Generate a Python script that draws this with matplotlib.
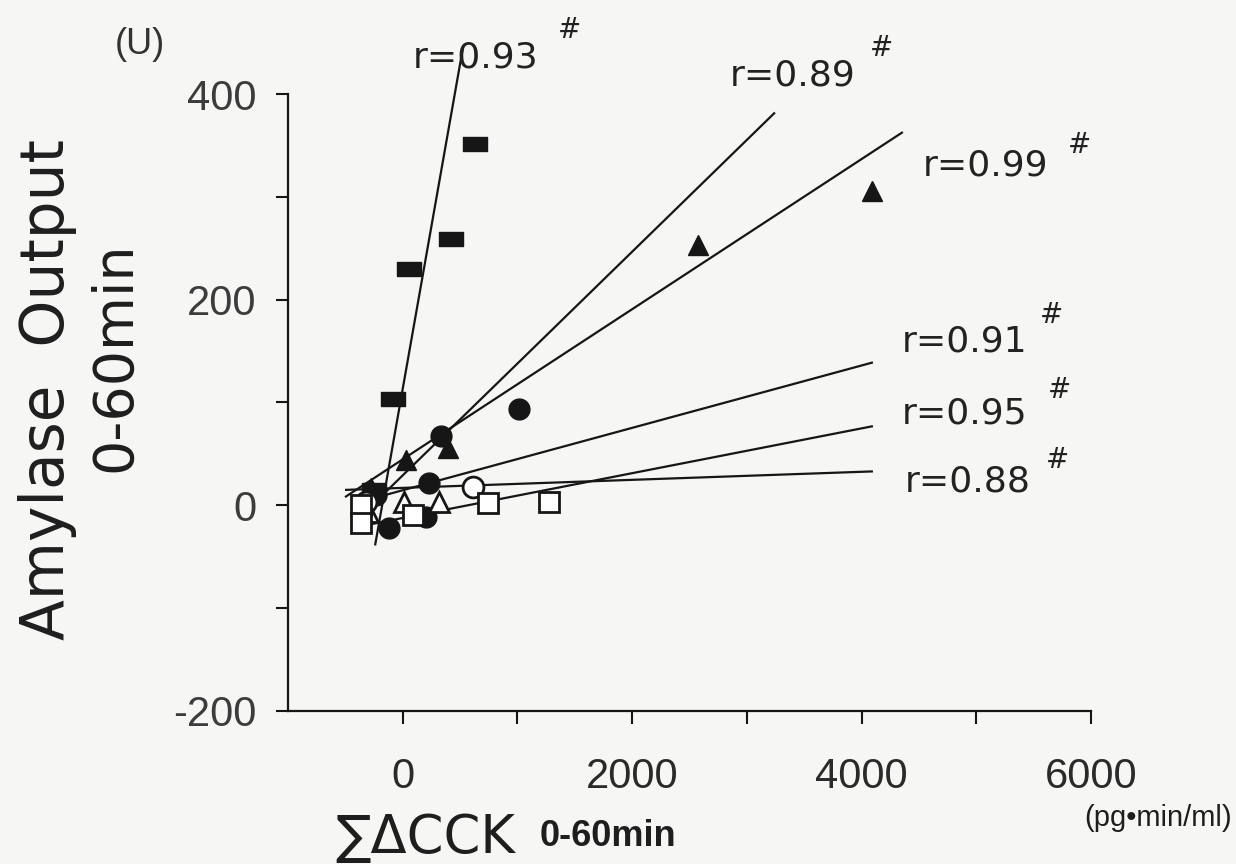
"""Amylase output vs summed CCK increment, 0-60 min, one regression line per group."""

import numpy as np
import matplotlib.pyplot as plt
from matplotlib.path import Path

W, H = 1236, 864
my_dpi = 100

# --- data ------------------------------------------------------------------
# filled rectangles
sq_f_x = [-250, -87, 52, 418, 627]
sq_f_y = [15, 103, 230, 259, 351]
# filled triangles
tri_f_x = [-279, 26, 392, 2570, 4094]
tri_f_y = [17, 44, 56, 253, 306]
# filled circles
cir_f_x = [-235, -122, 200, 226, 331, 1010]
cir_f_y = [10, -22, -11, 22, 67, 94]
# open circles
cir_o_x = [-320, 610]
cir_o_y = [3, 18]
# open triangles
tri_o_x = [9, 313, -300]
tri_o_y = [3, 3, -6]
# open squares
sq_o_x = [-366, -366, 87, 740, 1272]
sq_o_y = [0, -17, -9, 2, 3]

# regression lines: x start/end, y start/end
line_r = ["0.93", "0.89", "0.99", "0.91", "0.95", "0.88"]
line_x0 = [-241, -268, -503, -154, -398, -503]
line_x1 = [525, 3245, 4360, 4099, 4099, 4099]
line_y0 = [-39, 0, 8, 10, -21, 15]
line_y1 = [445, 382, 363, 139, 77, 33]

# label positions in picture pixels (left edge, centre y) and "#" centres
lab_px = [(413, 58), (730, 76), (923, 165), (902, 342), (902, 413), (905, 482)]
hash_px = [(570, 30), (882, 48), (1080, 145), (1052, 315), (1060, 390), (1058, 460)]

xticks = [0, 1000, 2000, 3000, 4000, 5000, 6000]
xtick_labels = ["0", "", "2000", "", "4000", "", "6000"]
yticks = [-200, -100, 0, 100, 200, 300, 400]
ytick_labels = ["-200", "", "0", "", "200", "", "400"]


def fx(px):
    return px / W


def fy(py):
    return 1 - py / H


rect = Path([(-1, -0.62), (1, -0.62), (1, 0.62), (-1, 0.62), (-1, -0.62)],
            [Path.MOVETO, Path.LINETO, Path.LINETO, Path.LINETO, Path.CLOSEPOLY])

fig = plt.figure(figsize=(W / my_dpi, H / my_dpi), dpi=my_dpi, facecolor="#f6f6f4")
ax = fig.add_axes([fx(288), fy(711), fx(1091) - fx(288), fy(94) - fy(711)])
ax.set_facecolor("none")

ink = "#161616"
for k in range(len(line_r)):
    ax.plot([line_x0[k], line_x1[k]], [line_y0[k], line_y1[k]], color=ink, lw=1.6,
            solid_capstyle="butt", clip_on=False, zorder=2)

ms = 15
ax.plot(sq_f_x, sq_f_y, ls="none", marker=rect, ms=ms + 2, color=ink, zorder=3)
ax.plot(tri_f_x, tri_f_y, ls="none", marker="^", ms=ms, color=ink, zorder=3)
ax.plot(cir_f_x, cir_f_y, ls="none", marker="o", ms=ms, color=ink, zorder=3)
ax.plot(cir_o_x, cir_o_y, ls="none", marker="o", ms=ms, mfc="white", mec=ink, mew=2, zorder=3)
ax.plot(tri_o_x, tri_o_y, ls="none", marker="^", ms=ms, mfc="white", mec=ink, mew=2, zorder=3)
ax.plot(sq_o_x, sq_o_y, ls="none", marker="s", ms=ms, mfc="white", mec=ink, mew=2, zorder=3)

ax.set_xlim(-1000, 6000)
ax.set_ylim(-200, 400)
for s in ["top", "right"]:
    ax.spines[s].set_visible(False)
for s in ["left", "bottom"]:
    ax.spines[s].set_linewidth(1.6)
    ax.spines[s].set_color(ink)

ax.set_xticks(xticks)
ax.set_xticklabels(xtick_labels, fontfamily=["Liberation Sans", "DejaVu Sans"],
                   fontsize=30, color="#2a2a2a")
ax.set_yticks(yticks)
ax.set_yticklabels(ytick_labels, fontfamily=["Liberation Sans", "DejaVu Sans"],
                   fontsize=30, color="#3c3c3c")
ax.tick_params(axis="x", direction="out", length=9, width=1.5, pad=24, color=ink)
ax.tick_params(axis="y", direction="out", length=9, width=1.5, pad=14, color=ink)

# r labels
for k in range(len(line_r)):
    fig.text(fx(lab_px[k][0]), fy(lab_px[k][1]), "r=" + line_r[k], fontsize=26,
             family="DejaVu Sans", color="#222222", ha="left", va="center")
    fig.text(fx(hash_px[k][0]), fy(hash_px[k][1]), "#", fontsize=20,
             family="DejaVu Sans", color="#222222", ha="center", va="center")

# axis titles
fig.text(fx(48), fy(390), "Amylase  Output", rotation=90, fontsize=43,
         family="DejaVu Sans", color="#1e1e1e", ha="center", va="center")
fig.text(fx(115), fy(357), "0-60min", rotation=90, fontsize=40,
         family="DejaVu Sans", color="#1e1e1e", ha="center", va="center")
fig.text(fx(165), fy(45), "(U)", fontsize=26, family=["Liberation Sans", "DejaVu Sans"],
         color="#333333", ha="right", va="center")

fig.text(fx(335), fy(838), "\u2211\u0394CCK", fontsize=38,
         family=["DejaVu Sans"], color="#1e1e1e", ha="left", va="center")
fig.text(fx(540), fy(836), "0-60min", fontsize=26, fontweight="bold",
         family=["Liberation Sans", "DejaVu Sans"],
         color="#1e1e1e", ha="left", va="center")
fig.text(fx(1232), fy(818), "(pg\u2022min/ml)", fontsize=21,
         family=["Liberation Sans", "DejaVu Sans"],
         color="#1e1e1e", ha="right", va="center")

plt.savefig("out.png", dpi=my_dpi, facecolor=fig.get_facecolor())
